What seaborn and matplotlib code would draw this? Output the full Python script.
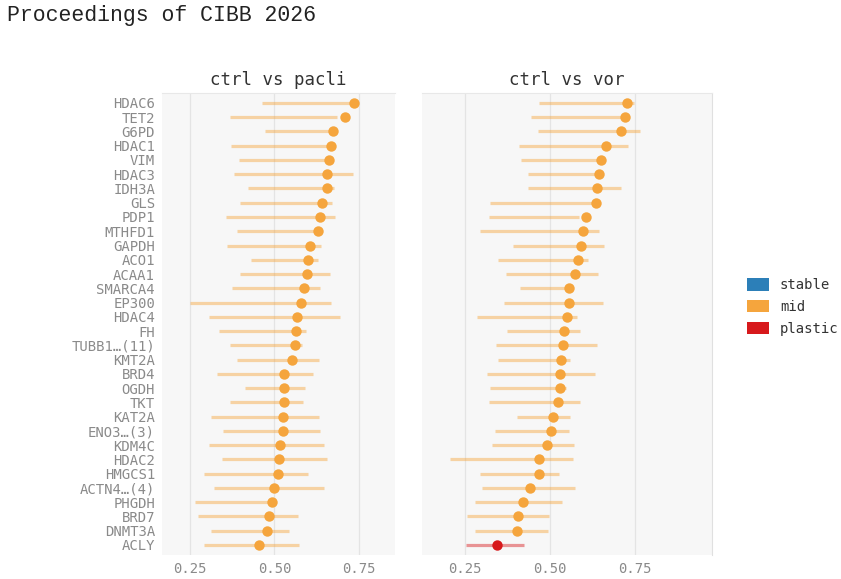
import numpy as np
import pandas as pd
import matplotlib
matplotlib.use("Agg")
import matplotlib.pyplot as plt
import seaborn as sns
from matplotlib.patches import Patch

# Genes, top to bottom
genes = ["HDAC6", "TET2", "G6PD", "HDAC1", "VIM", "HDAC3", "IDH3A", "GLS", "PDP1",
         "MTHFD1", "GAPDH", "ACO1", "ACAA1", "SMARCA4", "EP300", "HDAC4", "FH",
         "TUBB1…(11)", "KMT2A", "BRD4", "OGDH", "TKT", "KAT2A", "ENO3…(3)", "KDM4C",
         "HDAC2", "HMGCS1", "ACTN4…(4)", "PHGDH", "BRD7", "DNMT3A", "ACLY"]

# ctrl vs pacli
pacli_point = [0.734, 0.708, 0.673, 0.666, 0.661, 0.656, 0.656, 0.641, 0.634, 0.629, 0.604,
               0.600, 0.596, 0.587, 0.578, 0.567, 0.564, 0.561, 0.553, 0.528, 0.528, 0.527,
               0.525, 0.524, 0.516, 0.513, 0.510, 0.500, 0.494, 0.485, 0.479, 0.454]
pacli_low = [0.462, 0.370, 0.471, 0.373, 0.395, 0.380, 0.422, 0.398, 0.358, 0.389, 0.360,
             0.430, 0.399, 0.376, 0.250, 0.307, 0.336, 0.369, 0.391, 0.330, 0.412, 0.368,
             0.312, 0.347, 0.307, 0.345, 0.291, 0.321, 0.266, 0.273, 0.312, 0.292]
pacli_high = [0.740, 0.686, 0.678, 0.670, 0.665, 0.732, 0.676, 0.671, 0.679, 0.632, 0.639,
              0.630, 0.663, 0.636, 0.667, 0.695, 0.592, 0.582, 0.633, 0.615, 0.590, 0.585,
              0.631, 0.636, 0.647, 0.654, 0.600, 0.647, 0.504, 0.570, 0.544, 0.572]
pacli_cls = ["mid"] * 32

# ctrl vs vor
vor_point = [0.726, 0.720, 0.710, 0.664, 0.649, 0.645, 0.637, 0.634, 0.606, 0.596, 0.592,
             0.581, 0.573, 0.556, 0.555, 0.549, 0.540, 0.537, 0.532, 0.529, 0.529, 0.524,
             0.508, 0.502, 0.492, 0.468, 0.468, 0.441, 0.422, 0.406, 0.404, 0.345]
vor_low = [0.469, 0.443, 0.466, 0.410, 0.415, 0.434, 0.435, 0.325, 0.322, 0.295, 0.390,
           0.347, 0.372, 0.412, 0.364, 0.286, 0.374, 0.342, 0.348, 0.314, 0.325, 0.321,
           0.403, 0.339, 0.331, 0.206, 0.293, 0.300, 0.281, 0.257, 0.281, 0.252]
vor_high = [0.746, 0.724, 0.765, 0.730, 0.653, 0.649, 0.709, 0.638, 0.586, 0.645, 0.659,
            0.612, 0.641, 0.560, 0.655, 0.578, 0.588, 0.639, 0.559, 0.632, 0.547, 0.588,
            0.559, 0.555, 0.572, 0.569, 0.527, 0.573, 0.536, 0.496, 0.493, 0.423]
vor_cls = ["mid"] * 31 + ["plastic"]

palette = {"stable": "#2c7fb8", "mid": "#f5a53d", "plastic": "#d7191c"}
mono = "DejaVu Sans Mono"

sns.set_style("white")
plt.rcParams["font.family"] = ["DejaVu Sans Mono", "DejaVu Sans"]

fig = plt.figure(figsize=(8.41, 5.79), dpi=100)
ax1 = fig.add_axes([0.1926, 0.0415, 0.277, 0.798])
ax2 = fig.add_axes([0.5018, 0.0415, 0.3448, 0.798])

panels = [
    (ax1, "ctrl vs pacli", pacli_point, pacli_low, pacli_high, pacli_cls, (0.168, 0.856)),
    (ax2, "ctrl vs vor", vor_point, vor_low, vor_high, vor_cls, (0.124, 0.976)),
]

for ax, title, pt, lo, hi, cls, xlim in panels:
    df = pd.DataFrame({"gene": genes, "point": pt, "low": lo, "high": hi, "cls": cls})
    ax.set_facecolor("#f7f7f7")
    ax.grid(axis="x", color="#e4e4e4", linewidth=0.9)
    ax.set_axisbelow(True)
    for i, row in df.iterrows():
        ax.hlines(i, row["low"], row["high"], color=palette[row["cls"]],
                  alpha=0.45, linewidth=2.3, zorder=2)
    sns.stripplot(data=df, x="point", y="gene", hue="cls", palette=palette,
                  jitter=False, size=7.5, linewidth=0, ax=ax, legend=False, zorder=3)
    ax.set_xlim(*xlim)
    ax.set_ylim(len(genes) - 0.3, -0.7)
    ax.set_xticks([0.25, 0.50, 0.75])
    ax.set_xticklabels(["0.25", "0.50", "0.75"])
    ax.set_xlabel("")
    ax.set_ylabel("")
    ax.set_title(title, fontsize=12.5, color="#333333", family=mono, pad=6)
    ax.tick_params(axis="both", length=0, labelsize=10, labelcolor="#8a8a8a", pad=5)
    for s in ax.spines.values():
        s.set_visible(False)
    ax.spines["top"].set_visible(True)
    ax.spines["top"].set_color("#e8e8e8")

ax2.set_yticklabels([])
ax2.spines["right"].set_visible(True)
ax2.spines["right"].set_color("#e0e0e0")

handles = [Patch(facecolor=palette[k], edgecolor="none", label=k)
           for k in ["stable", "mid", "plastic"]]
fig.legend(handles=handles, loc="center left", bbox_to_anchor=(0.873, 0.47),
           frameon=False, fontsize=10, handlelength=1.6, handleheight=1.0,
           handletextpad=0.8, labelspacing=0.55, labelcolor="#333333")

fig.text(0.008, 0.973, "Proceedings of CIBB 2026", family="Liberation Mono",
         fontsize=15.5, color="#222222", va="center", ha="left")

fig.savefig("out.png", dpi=100)
